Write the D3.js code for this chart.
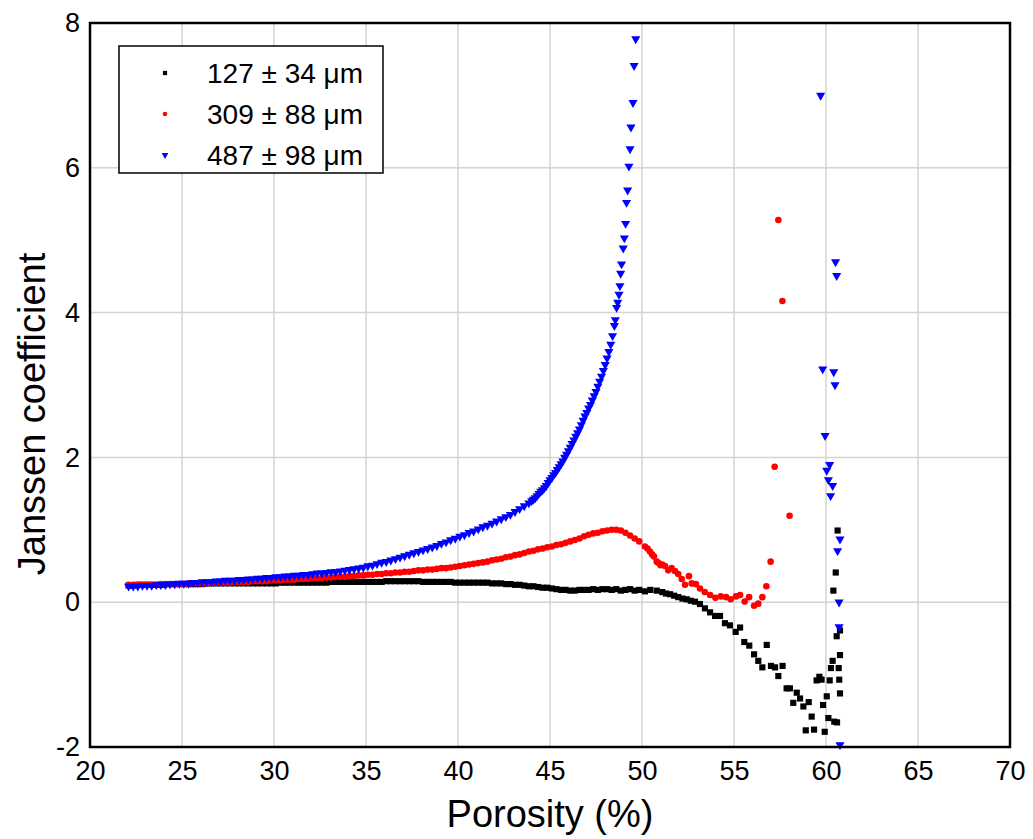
<!DOCTYPE html>
<html>
<head>
<meta charset="utf-8">
<script src="https://cdn.jsdelivr.net/npm/d3@7"></script>
<style>
  body { margin: 0; background: #fff; }
  text { font-family: "Liberation Sans", Arial, sans-serif; fill: #000; }
</style>
</head>
<body>
<svg id="chart" width="1033" height="839"></svg>
<script>
// porosity (%) vs Janssen coefficient

const xTicks = [20, 25, 30, 35, 40, 45, 50, 55, 60, 65, 70];
const yTicks = [-2, 0, 2, 4, 6, 8];
const seriesNames = ['127 \u00b1 34 \u03bcm', '309 \u00b1 88 \u03bcm', '487 \u00b1 98 \u03bcm'];

const black = [
  [22.1,.23],[22.35,.23],[22.6,.24],[22.85,.24],[23.1,.24],[23.35,.24],[23.6,.24],[23.85,.24],[24.1,.25],[24.35,.25],
  [24.6,.25],[24.85,.25],[25.1,.25],[25.35,.25],[25.6,.25],[25.85,.25],[26.1,.25],[26.35,.26],[26.6,.26],[26.85,.26],
  [27.1,.26],[27.35,.26],[27.6,.26],[27.85,.26],[28.1,.26],[28.35,.26],[28.6,.26],[28.85,.26],[29.1,.26],[29.35,.26],
  [29.6,.26],[29.85,.26],[30.1,.26],[30.35,.27],[30.6,.27],[30.85,.27],[31.1,.27],[31.35,.27],[31.6,.27],[31.85,.27],
  [32.1,.27],[32.35,.27],[32.6,.27],[32.85,.27],[33.1,.28],[33.35,.28],[33.6,.28],[33.85,.28],[34.1,.28],[34.35,.28],
  [34.6,.28],[34.85,.28],[35.1,.28],[35.35,.28],[35.6,.28],[35.85,.28],[36.1,.29],[36.35,.29],[36.6,.29],[36.85,.29],
  [37.1,.29],[37.35,.29],[37.6,.29],[37.85,.29],[38.1,.28],[38.35,.28],[38.6,.28],[38.85,.28],[39.1,.28],[39.35,.28],
  [39.6,.28],[39.85,.27],[40.1,.27],[40.35,.27],[40.6,.27],[40.85,.27],[41.1,.27],[41.35,.27],[41.6,.27],[41.85,.26],
  [42.1,.26],[42.35,.26],[42.6,.25],[42.85,.25],[43.1,.24],[43.35,.24],[43.6,.23],[43.85,.22],[44.1,.22],[44.35,.21],
  [44.6,.20],[44.85,.20],[45.1,.19],[45.35,.18],[45.6,.17],[45.85,.17],[46.1,.16],[46.35,.16],[46.6,.17],[46.85,.17],
  [47.1,.17],[47.35,.18],[47.6,.17],[47.85,.18],[48.1,.18],[48.35,.17],[48.6,.18],[48.85,.16],[49.1,.17],[49.35,.18],
  [49.6,.16],[49.85,.17],[50.16,.15],[50.45,.17],[50.8,.16],[51.1,.14],[51.3,.12],[51.52,.11],[51.75,.09],[51.97,.07],
  [52.2,.05],[52.43,.04],[52.65,.02],[52.88,.007],[53.15,-.025],[53.42,-.085],[53.7,-.14],[53.97,-.19],[54.24,-.19],
  [54.51,-.29],[54.78,-.32],[55.09,-.41],[55.33,-.35],[55.56,-.55],[55.83,-.60],[56.09,-.72],[56.32,-.81],[56.54,-.90],
  [56.78,-.59],[57.01,-.88],[57.23,-.90],[57.41,-1.02],[57.64,-.88],[57.86,-1.19],[58.04,-1.19],[58.22,-1.39],
  [58.41,-1.25],[58.59,-1.33],[58.77,-1.44],[58.9,-1.77],[59.06,-1.38],[59.22,-1.58],[59.35,-1.76],[59.49,-1.08],
  [59.64,-1.03],[59.76,-1.07],[59.84,-1.42],[59.93,-1.79],[60.04,-1.30],[60.13,-1.60],[60.2,-1.08],[60.27,-.91],
  [60.36,-.81],[60.45,-1.65],[60.6,-1.66],[60.4,.16],[60.53,.41],[60.63,.99],[60.58,-.47],[60.76,-.39],[60.76,-.73],
  [60.69,-.91],[60.72,-1.07],[60.76,-1.26]
];

const red = [
  [22.1,.24],[22.35,.24],[22.6,.24],[22.85,.24],[23.1,.24],[23.35,.24],[23.6,.24],[23.85,.25],[24.1,.25],[24.35,.25],
  [24.6,.25],[24.85,.25],[25.1,.25],[25.35,.26],[25.6,.26],[25.85,.26],[26.1,.26],[26.35,.26],[26.6,.27],[26.85,.27],
  [27.1,.27],[27.35,.27],[27.6,.27],[27.85,.28],[28.1,.28],[28.35,.28],[28.6,.28],[28.85,.29],[29.1,.29],[29.35,.29],
  [29.6,.29],[29.85,.30],[30.1,.30],[30.35,.30],[30.6,.31],[30.85,.31],[31.1,.31],[31.35,.32],[31.6,.32],[31.85,.32],
  [32.1,.33],[32.35,.33],[32.6,.33],[32.85,.34],[33.1,.34],[33.35,.35],[33.6,.35],[33.85,.35],[34.1,.36],[34.35,.36],
  [34.6,.37],[34.85,.37],[35.1,.38],[35.35,.38],[35.6,.39],[35.85,.39],[36.1,.40],[36.35,.40],[36.6,.41],[36.85,.41],
  [37.1,.42],[37.35,.42],[37.6,.43],[37.85,.44],[38.1,.44],[38.35,.45],[38.6,.45],[38.85,.46],[39.1,.47],[39.35,.47],
  [39.6,.48],[39.85,.49],[40.1,.50],[40.35,.51],[40.6,.52],[40.85,.53],[41.1,.54],[41.35,.55],[41.6,.56],[41.85,.58],
  [42.1,.59],[42.35,.60],[42.6,.62],[42.85,.63],[43.1,.65],[43.35,.66],[43.6,.68],[43.85,.70],[44.1,.71],[44.35,.73],
  [44.6,.74],[44.85,.76],[45.1,.77],[45.35,.79],[45.6,.80],[45.85,.82],[46.1,.84],[46.35,.86],[46.6,.88],[46.85,.91],
  [47.1,.93],[47.35,.95],[47.6,.96],[47.85,.98],[48.1,.99],[48.35,1.00],[48.6,1.00],[48.85,.99],[49.1,.96],[49.35,.92],
  [49.6,.88],[49.85,.84],[50.16,.77],[50.3,.74],[50.43,.70],[50.55,.66],[50.65,.63],[50.8,.56],[50.9,.54],[51.01,.51],
  [51.1,.52],[51.25,.50],[51.43,.44],[51.61,.47],[51.79,.43],[51.97,.39],[52.16,.32],[52.34,.24],[52.55,.36],[52.70,.26],
  [52.93,.25],[53.15,.19],[53.41,.14],[53.70,.10],[53.99,.06],[54.28,.08],[54.57,.07],[54.82,.04],[55.11,.08],[55.33,.10],
  [55.58,.01],[55.82,.07],[56.09,-.05],[56.32,-.02],[56.54,.07],[56.76,.22],[56.99,.56],[57.21,1.87],[58.02,1.195],
  [57.41,5.28],[57.63,4.16]
];

const blue = [
  [22.1,.22],[22.35,.22],[22.6,.22],[22.85,.23],[23.1,.23],[23.35,.23],[23.6,.24],[23.85,.24],[24.1,.24],[24.35,.25],
  [24.6,.25],[24.85,.26],[25.1,.26],[25.35,.26],[25.6,.27],[25.85,.27],[26.1,.28],[26.35,.28],[26.6,.28],[26.85,.29],
  [27.1,.29],[27.35,.30],[27.6,.30],[27.85,.30],[28.1,.31],[28.35,.31],[28.6,.32],[28.85,.32],[29.1,.33],[29.35,.33],
  [29.6,.34],[29.85,.34],[30.1,.35],[30.35,.35],[30.6,.36],[30.85,.36],[31.1,.37],[31.35,.37],[31.6,.38],[31.85,.38],
  [32.1,.39],[32.35,.40],[32.6,.40],[32.85,.41],[33.1,.42],[33.35,.42],[33.6,.43],[33.85,.44],[34.1,.45],[34.35,.46],
  [34.6,.47],[34.85,.48],[35.1,.50],[35.35,.51],[35.6,.53],[35.85,.55],[36.1,.56],[36.35,.58],[36.6,.60],[36.85,.62],
  [37.1,.64],[37.35,.66],[37.6,.68],[37.85,.70],[38.1,.72],[38.35,.74],[38.6,.76],[38.85,.78],[39.1,.81],[39.35,.83],
  [39.6,.86],[39.85,.88],[40.1,.91],[40.35,.93],[40.6,.96],[40.85,.98],[41.1,1.01],[41.35,1.04],[41.6,1.06],[41.85,1.09],
  [42.1,1.12],[42.35,1.15],[42.6,1.18],[42.85,1.21],[43.1,1.25],[43.35,1.29],[43.6,1.33],[43.85,1.37],
  [44.0,1.40],[44.1,1.42],[44.2,1.44],[44.3,1.47],[44.4,1.50],[44.5,1.53],[44.6,1.55],[44.7,1.58],[44.8,1.61],
  [44.9,1.65],[45.0,1.69],[45.1,1.72],[45.2,1.76],[45.3,1.79],[45.4,1.83],[45.5,1.87],[45.6,1.91],[45.7,1.95],
  [45.8,2.00],[45.9,2.04],[46.0,2.09],[46.1,2.14],[46.2,2.19],[46.3,2.24],[46.4,2.29],[46.5,2.34],[46.6,2.39],
  [46.7,2.45],[46.8,2.51],[46.9,2.57],[47.0,2.62],[47.1,2.68],[47.2,2.73],[47.3,2.79],[47.4,2.85],[47.5,2.91],
  [47.6,2.98],[47.7,3.05],[47.8,3.12],[47.9,3.20],[48.0,3.28],[48.1,3.37],[48.2,3.46],[48.3,3.56],[48.4,3.68],
  [48.5,3.82],[48.55,3.90],[48.62,4.07],[48.68,4.14],[48.75,4.25],[48.80,4.37],[48.84,4.54],[48.89,4.67],[48.98,4.89],
  [49.04,5.03],[49.11,5.23],[49.16,5.52],[49.22,5.69],[49.29,6.02],[49.35,6.26],[49.40,6.56],[49.51,6.90],[49.57,7.41],
  [49.66,7.78],
  [59.71,7.0],[60.52,4.70],[60.58,4.51],[59.82,3.22],[60.42,3.18],[60.49,3.0],[59.95,2.30],[60.20,1.90],[60.04,1.82],
  [60.13,1.69],[60.36,1.61],[60.25,1.47],[60.76,0.87],[60.63,0.71],[60.71,0.0],[60.71,-0.34],[60.76,-1.97]
];

const margin = { top: 23, right: 23, bottom: 92, left: 90 };
const svg = d3.select('#chart');
const width = +svg.attr('width');
const height = +svg.attr('height');
const innerWidth = width - margin.left - margin.right;
const innerHeight = height - margin.top - margin.bottom;

const x = d3.scaleLinear().domain([20, 70]).range([0, innerWidth]);
const y = d3.scaleLinear().domain([-2, 8]).range([innerHeight, 0]);

const g = svg.append('g').attr('transform', `translate(${margin.left},${margin.top})`);

// grid
g.append('g')
  .selectAll('line')
  .data(xTicks)
  .join('line')
  .attr('x1', d => x(d)).attr('x2', d => x(d))
  .attr('y1', 0).attr('y2', innerHeight)
  .attr('stroke', '#d4d4d4').attr('stroke-width', 1.5);

g.append('g')
  .selectAll('line')
  .data(yTicks)
  .join('line')
  .attr('x1', 0).attr('x2', innerWidth)
  .attr('y1', d => y(d)).attr('y2', d => y(d))
  .attr('stroke', '#d4d4d4').attr('stroke-width', 1.5);

// axes (labels only, frame drawn below)
const xAxis = d3.axisBottom(x).tickValues(xTicks).tickSize(0).tickPadding(14).tickFormat(d => String(d));
const yAxis = d3.axisLeft(y).tickValues(yTicks).tickSize(0).tickPadding(10).tickFormat(d => String(d));

g.append('g')
  .attr('transform', `translate(0,${innerHeight})`)
  .call(xAxis)
  .call(a => a.select('.domain').remove())
  .call(a => a.selectAll('text').attr('font-size', 27).attr('font-family', '"Liberation Sans", Arial, sans-serif'));

g.append('g')
  .call(yAxis)
  .call(a => a.select('.domain').remove())
  .call(a => a.selectAll('text').attr('font-size', 27).attr('font-family', '"Liberation Sans", Arial, sans-serif'));

// markers
const sq = d3.symbol().type(d3.symbolSquare).size(38);
const tri = d3.symbol().type(d3.symbolTriangle).size(36);

g.append('g')
  .selectAll('path')
  .data(black)
  .join('path')
  .attr('transform', d => `translate(${x(d[0])},${y(d[1])})`)
  .attr('d', sq)
  .attr('fill', '#000');

g.append('g')
  .selectAll('circle')
  .data(red)
  .join('circle')
  .attr('cx', d => x(d[0]))
  .attr('cy', d => y(d[1]))
  .attr('r', 3.3)
  .attr('fill', '#ff0000');

g.append('g')
  .selectAll('path')
  .data(blue)
  .join('path')
  .attr('transform', d => `translate(${x(d[0])},${y(d[1])}) rotate(180)`)
  .attr('d', tri)
  .attr('fill', '#0000ff');

// frame
g.append('rect')
  .attr('width', innerWidth)
  .attr('height', innerHeight)
  .attr('fill', 'none')
  .attr('stroke', '#000')
  .attr('stroke-width', 2.5);

// titles
svg.append('text')
  .attr('x', margin.left + innerWidth / 2)
  .attr('y', 827)
  .attr('text-anchor', 'middle')
  .attr('font-size', 38)
  .text('Porosity (%)');

svg.append('text')
  .attr('transform', 'translate(45,414) rotate(-90)')
  .attr('text-anchor', 'middle')
  .attr('font-size', 38)
  .text('Janssen coefficient');

// legend
const lg = svg.append('g').attr('transform', 'translate(119,46)');
lg.append('rect')
  .attr('width', 264).attr('height', 127)
  .attr('fill', '#fff').attr('stroke', '#000').attr('stroke-width', 1.5);

const rows = [27, 68, 109];
lg.append('path')
  .attr('transform', `translate(46,${rows[0]})`)
  .attr('d', d3.symbol().type(d3.symbolSquare).size(18))
  .attr('fill', '#000');
lg.append('circle')
  .attr('cx', 46).attr('cy', rows[1]).attr('r', 2.3)
  .attr('fill', '#ff0000');
lg.append('path')
  .attr('transform', `translate(46,${rows[2]}) rotate(180)`)
  .attr('d', d3.symbol().type(d3.symbolTriangle).size(20))
  .attr('fill', '#0000ff');

lg.selectAll('text.lab')
  .data(seriesNames)
  .join('text')
  .attr('class', 'lab')
  .attr('x', 88)
  .attr('y', (d, i) => rows[i] + 10)
  .attr('font-size', 28)
  .text(d => d);
</script>
</body>
</html>
